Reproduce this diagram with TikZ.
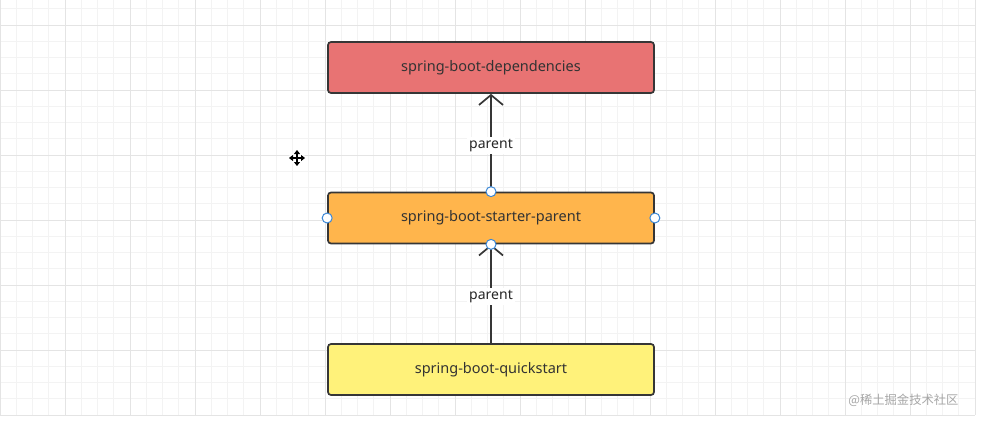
\documentclass[tikz,border=0pt]{standalone}
\usepackage{fontspec}
\setmainfont{Noto Sans}
\newfontfamily\cjk{Noto Sans CJK SC}
\usetikzlibrary{arrows.meta,calc}
\definecolor{gridminor}{HTML}{F3F3F3}
\definecolor{gridmajor}{HTML}{E4E4E4}
\definecolor{boxred}{HTML}{E87373}
\definecolor{boxorange}{HTML}{FFB54C}
\definecolor{boxyellow}{HTML}{FFF27A}
\definecolor{edge}{HTML}{363636}
\definecolor{handle}{HTML}{3B87D6}
\tikzset{
  box/.style={draw=edge, line width=1.7pt, rounded corners=3pt, minimum width=326pt, minimum height=51pt, font=\fontsize{14.5}{17}\selectfont, text=black!80, inner sep=0pt},
  link/.style={draw=edge, line width=1.7pt, -{Straight Barb[length=10pt,width=24pt,line width=1.7pt]}},
  lab/.style={fill=white, font=\fontsize{14}{16}\selectfont, text=black!85, inner sep=2pt, yshift=-3pt},
  hnd/.style={circle, draw=handle, fill=white, line width=1pt, minimum size=10pt, inner sep=0pt}
}
\begin{document}
\begin{tikzpicture}[x=1pt,y=-1pt]
\useasboundingbox (0,0) rectangle (981,421);
\fill[white] (0,0) rectangle (981,421);
% grid
\foreach \i in {0,...,60} {\draw[gridminor, line width=0.8pt] ({\i*16.25},0) -- ({\i*16.25},415);}
\foreach \j in {0,...,24} {\draw[gridminor, line width=0.8pt] (0,{8.75+\j*16.25}) -- (975,{8.75+\j*16.25});}
\foreach \i in {0,...,15} {\draw[gridmajor, line width=1pt] ({\i*65},0) -- ({\i*65},415);}
\foreach \j in {0,...,6} {\draw[gridmajor, line width=1pt] (0,{25+\j*65}) -- (975,{25+\j*65});}
% boxes
\node[box, fill=boxred] (dep) at (491,67.5) {\raisebox{-2pt}{spring-boot-dependencies}};
\node[box, fill=boxorange] (par) at (491,218) {\raisebox{-2pt}{spring-boot-starter-parent}};
\node[box, fill=boxyellow] (qs) at (491,369.5) {\raisebox{-2pt}{spring-boot-quickstart}};
% connectors
\draw[link] (par.north) -- node[lab, pos=0.5] (l1) {parent} (dep.south);
\draw[link] (qs.north) -- node[lab, pos=0.5] (l2) {parent} (par.south);
% handles
\node[hnd] (h1) at (par.north) {};
\node[hnd] (h2) at (par.south) {};
\node[hnd] (h3) at (par.west) {};
\node[hnd] (h4) at (par.east) {};
% move cursor
\coordinate (mc) at (297,158);
\fill[white] ($(mc)+(-10,0)$) -- ($(mc)+(0,-10)$) -- ($(mc)+(10,0)$) -- ($(mc)+(0,10)$) -- cycle;
\draw[black, line width=1.8pt, {Triangle[length=4pt,width=6pt]}-{Triangle[length=4pt,width=6pt]}] ($(mc)+(-8,0)$) -- ($(mc)+(8,0)$);
\draw[black, line width=1.8pt, {Triangle[length=4pt,width=6pt]}-{Triangle[length=4pt,width=6pt]}] ($(mc)+(0,-8)$) -- ($(mc)+(0,8)$);
% watermark
\node[font=\cjk\fontsize{12.3}{14}\selectfont, text=black!35, anchor=east] (wm) at (962,400) {@稀土掘金技术社区};
\end{tikzpicture}
\end{document}
